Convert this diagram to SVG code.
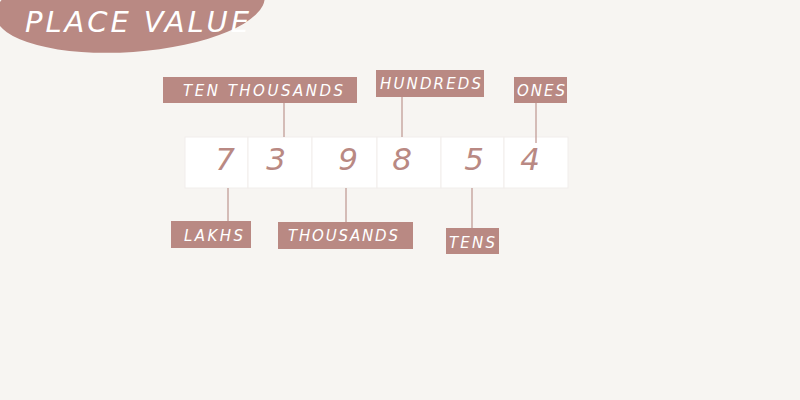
<svg xmlns="http://www.w3.org/2000/svg" width="800" height="400" viewBox="0 0 800 400">
<style>
.lbl{fill:#b98983}
.lt{font-family:"DejaVu Sans",sans-serif;font-style:italic;font-size:15px;fill:#ffffff}
.dg{font-family:"DejaVu Sans",sans-serif;font-style:italic;font-size:31px;fill:#b98983;text-anchor:middle}
.cell{fill:#ffffff;stroke:#f1eeeb;stroke-width:1}
.con line{stroke:#c29d97;stroke-width:1.3}
</style>
<rect width="800" height="400" fill="#f7f5f2"/>
<g id="title">
<ellipse cx="130" cy="6" rx="135" ry="46" transform="rotate(-4 130 6)" fill="#b98983"/>
<text x="25" y="32" font-family="DejaVu Sans,sans-serif" font-style="italic" font-size="29" fill="#ffffff" textLength="224" lengthAdjust="spacing">PLACE VALUE</text>
</g>
<g id="number">
<rect class="cell" x="185" y="137" width="63" height="51"/>
<rect class="cell" x="248" y="137" width="64" height="51"/>
<rect class="cell" x="312" y="137" width="65" height="51"/>
<rect class="cell" x="377" y="137" width="64" height="51"/>
<rect class="cell" x="441" y="137" width="63" height="51"/>
<rect class="cell" x="504" y="137" width="64" height="51"/>
<text class="dg" x="225" y="170">7</text>
<text class="dg" x="276" y="170">3</text>
<text class="dg" x="348" y="170">9</text>
<text class="dg" x="402" y="170">8</text>
<text class="dg" x="474" y="170">5</text>
<text class="dg" x="530" y="170">4</text>
</g>
<g id="connectors" class="con">
<line x1="284" y1="103" x2="284" y2="137"/>
<line x1="402" y1="97" x2="402" y2="137"/>
<line x1="536" y1="103" x2="536" y2="143"/>
<line x1="228" y1="188" x2="228" y2="221"/>
<line x1="346" y1="188" x2="346" y2="222"/>
<line x1="472" y1="188" x2="472" y2="228"/>
</g>
<g id="ten-thousands"><rect class="lbl" x="163" y="77" width="194" height="26"/><text class="lt" x="183" y="96" textLength="160" lengthAdjust="spacing">TEN THOUSANDS</text></g>
<g id="hundreds"><rect class="lbl" x="376" y="70" width="108" height="27"/><text class="lt" x="380" y="89" textLength="101" lengthAdjust="spacing">HUNDREDS</text></g>
<g id="ones"><rect class="lbl" x="514" y="77" width="53" height="26"/><text class="lt" x="517" y="96" textLength="48" lengthAdjust="spacing">ONES</text></g>
<g id="lakhs"><rect class="lbl" x="171" y="221" width="80" height="27"/><text class="lt" x="184" y="241" textLength="59" lengthAdjust="spacing">LAKHS</text></g>
<g id="thousands"><rect class="lbl" x="278" y="222" width="135" height="27"/><text class="lt" x="288" y="241" textLength="110" lengthAdjust="spacing">THOUSANDS</text></g>
<g id="tens"><rect class="lbl" x="446" y="228" width="53" height="26"/><text class="lt" x="449" y="248" textLength="46" lengthAdjust="spacing">TENS</text></g>
</svg>
